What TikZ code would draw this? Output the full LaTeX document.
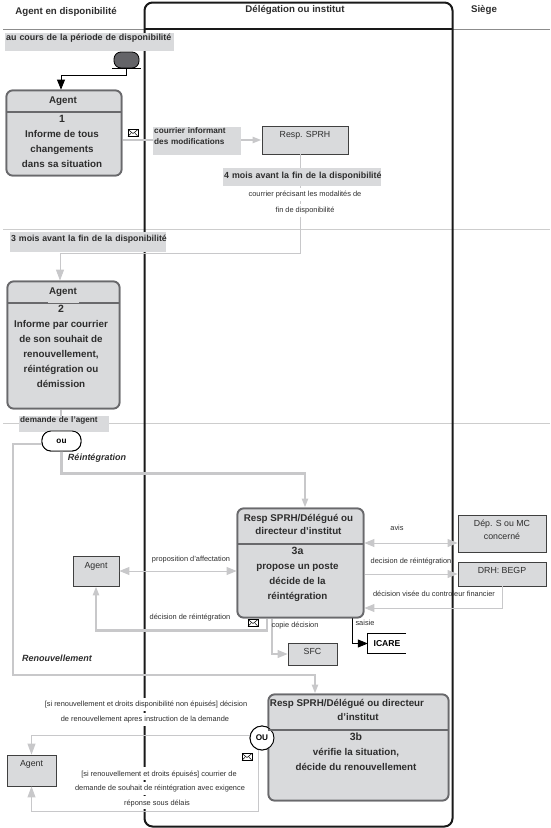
\documentclass[tikz,border=0pt]{standalone}
\usepackage{fontspec}
\setmainfont{Liberation Sans}
\usetikzlibrary{arrows.meta,calc,positioning}
\definecolor{boxgrey}{RGB}{217,218,220}
\definecolor{boxedge}{RGB}{105,105,108}
\definecolor{flowgrey}{RGB}{200,200,202}
\definecolor{rulegrey}{RGB}{205,205,205}
\definecolor{startgrey}{RGB}{100,100,104}
\definecolor{inkgrey}{RGB}{45,45,45}
\tikzset{
  swimrule/.style={rulegrey,line width=0.9pt},
  heavy/.style={black!90,line width=2pt},
  thinflow/.style={flowgrey,line width=0.9pt},
  midflow/.style={flowgrey,line width=1.1pt,-{Triangle[length=10pt,width=8pt]}},
  bothflow/.style={flowgrey,line width=0.9pt,{Triangle[length=10pt,width=8pt]}-{Triangle[length=10pt,width=8pt]}},
  thickflow/.style={flowgrey,line width=2.2pt,-{Triangle[length=9pt,width=6pt]}},
  blackflow/.style={black,line width=0.8pt,-{Triangle[length=10pt,width=8pt]}},
  maintitle/.style={font=\fontsize{9.7}{11}\selectfont\bfseries,text=inkgrey},
  activity/.style={draw=boxedge,fill=boxgrey,line width=1.8pt,rounded corners=6pt,inner sep=0pt},
  headrule/.style={boxedge,line width=1.6pt},
  headtext/.style={font=\fontsize{9.8}{13.5}\selectfont\bfseries,text=inkgrey,align=center,inner sep=0pt},
  bodytext/.style={font=\fontsize{9.8}{15}\selectfont\bfseries,text=inkgrey,align=center,inner sep=0pt},
  simplebox/.style={draw=black!75,fill=boxgrey,line width=0.8pt,inner xsep=0pt,inner ysep=0pt,align=center,
                    font=\fontsize{8.8}{13}\selectfont,text=inkgrey},
  greylab/.style={fill=boxgrey,anchor=north west,inner xsep=1pt,inner ysep=0pt,align=left,
                  font=\fontsize{8.2}{11.5}\selectfont\bfseries,text=inkgrey},
  thinlab/.style={font=\fontsize{7.4}{9}\selectfont,text=inkgrey,inner sep=0pt},
  maskedlab/.style={thinlab,fill=white,inner xsep=1pt,inner ysep=2pt,text height=7pt,text depth=2pt},
  pathlab/.style={font=\fontsize{9}{10}\selectfont\bfseries\itshape,text=inkgrey,inner sep=0pt},
  choice/.style={draw=black,fill=white,line width=0.9pt,inner sep=0pt,font=\fontsize{8.2}{9}\selectfont\bfseries},
  mailicon/.pic={
    \draw[black,line width=0.6pt,fill=white] (-5,-3.5) rectangle (5,3.5);
    \draw[black,line width=0.5pt] (-5,-3.5) -- (0,0.5) -- (5,-3.5);
    \draw[black,line width=0.5pt] (-5,3.5) -- (-1.5,-0.5) (5,3.5) -- (1.5,-0.5);
  },
}
\begin{document}
\begin{tikzpicture}[x=1pt,y=-1pt]
  \path[use as bounding box] (0,0) rectangle (550,828);

  % lanes
  \draw[black!45,line width=0.9pt] (3,29) -- (550,29);
  \draw[swimrule] (3,229) -- (550,229);
  \draw[swimrule] (3,423) -- (550,423);
  \node[draw=black!90,line width=2pt,rounded corners=8pt,minimum width=308pt,minimum height=824pt,inner sep=0pt]
    (FRAME) at (298.5,414.5) {};
  \draw[heavy] (144.5,29) -- (452.5,29);
  \node[maintitle] (LANEA) at (66,12) {Agent en disponibilité};
  \node[maintitle] (LANEB) at (295,9.5) {Délégation ou institut};
  \node[maintitle] (LANEC) at (484,10) {Siège};

  % activity boxes and plain boxes
  \node[activity,minimum width=115pt,minimum height=85pt] (AGENTA) at (64,133) {};
  \node[activity,minimum width=112pt,minimum height=127pt] (AGENTB) at (63.5,345) {};
  \node[activity,minimum width=126pt,minimum height=109pt] (RESPA) at (300.5,563) {};
  \node[activity,minimum width=180pt,minimum height=106pt] (RESPB) at (358.5,747.5) {};
  \node[simplebox,minimum width=86pt,text height=11pt,text depth=17pt] (SPRH) at (305,140) {Resp. SPRH};
  \node[simplebox,minimum width=46pt,text height=12pt,text depth=18pt] (AGENTC) at (96,571) {Agent};
  \node[simplebox,minimum width=49pt,text height=11pt,text depth=11pt] (SFC) at (312.5,654) {SFC};
  \node[simplebox,minimum width=88pt,text height=24pt,text depth=13pt] (DEP) at (502,533.5) {Dép. S ou MC\\concerné};
  \node[simplebox,minimum width=88pt,text height=11pt,text depth=13pt] (DRH) at (502,574) {DRH: BEGP};
  \node[simplebox,minimum width=49pt,text height=11pt,text depth=20pt] (AGENTD) at (31.5,770.5) {Agent};
  \node[inner sep=0pt,minimum width=38pt,minimum height=19pt,font=\fontsize{8.6}{10}\selectfont\bfseries] (ICARE) at (387,643.5) {ICARE};
  \draw[black,line width=0.8pt] (ICARE.north east) -- (ICARE.north west) -- (ICARE.south west) -- (ICARE.south east);

  % connectors
  \node[draw=black,fill=startgrey,line width=0.8pt,rounded corners=7pt,minimum width=25pt,minimum height=16pt,inner sep=0pt]
    (START) at (126.5,60) {};
  \draw[black,line width=0.8pt] (112,68) -- (141,68);
  \draw[blackflow] (START.south) -- ++(0,7) -| ($(AGENTA.north)+(-3,0)$);
  \draw[thickflow] (AGENTA.east |- SPRH.west) -- (SPRH.west);
  \draw[thinflow,-{Triangle[length=11pt,width=8pt]}] ($(SPRH.south)+(-5,0)$) -- ++(0,99) -| ($(AGENTB.north)+(-3.5,0)$);
  \draw[flowgrey,line width=1.6pt] ($(AGENTB.south)+(-2.5,0)$) -- ++(0,24);
  \coordinate (RENEWCORNER) at (13,675);
  \node[choice,rounded corners=9pt,minimum width=39pt,minimum height=20pt] (OUA) at (61.5,441) {};
  \draw[thickflow] ($(OUA.west)+(0,3)$) -| (RENEWCORNER) -| ($(RESPB.north)+(-43.5,0)$);
  \draw[thickflow] (OUA.south) -- ++(0,22) -| ($(RESPA.north)+(4.5,0)$);
  \draw[bothflow] (AGENTC.east) -- (RESPA.west |- AGENTC.east);
  \draw[thickflow] ($(RESPA.south)+(-33.5,0)$) -- ++(0,12) -| (AGENTC.south);
  \draw[midflow] ($(RESPA.south)+(-28.5,0)$) |- (SFC.west);
  \draw[blackflow] ($(RESPA.south)+(52,0)$) |- (ICARE.west);
  \draw[bothflow] (RESPA.east |- 0,543) -- (DEP.west |- 0,543);
  \draw[midflow,line width=0.9pt] (RESPA.east |- DRH.west) -- (DRH.west);
  \draw[thinflow,-{Triangle[length=10pt,width=8pt]}] (DRH.south) |- (RESPA.east |- 0,608);
  \node[circle,choice,minimum size=24pt] (OUB) at (262,738) {OU};
  \draw[thinflow,-{Triangle[length=11pt,width=8pt]}] ($(OUB.west)+(0,-3)$) -| (AGENTD.north);
  \draw[thinflow,-{Triangle[length=11pt,width=8pt]}] ($(OUB.south)+(-4,0)$) -- ++(0,61) -| (AGENTD.south);

  % redraw boxes over the line ends
  \node[activity,minimum width=115pt,minimum height=85pt] at (AGENTA) {};
  \node[activity,minimum width=112pt,minimum height=127pt] at (AGENTB) {};
  \node[activity,minimum width=126pt,minimum height=109pt] at (RESPA) {};
  \node[activity,minimum width=180pt,minimum height=106pt] at (RESPB) {};
  \node[circle,choice,minimum size=24pt] at (OUB) {OU};

  % box contents
  \draw[headrule] (AGENTA.west |- 0,112) -- (AGENTA.east |- 0,112);
  \draw[headrule] (AGENTB.west |- 0,303) -- (AGENTB.east |- 0,303);
  \fill[boxgrey] (48,301.8) rectangle (79,303.2);
  \draw[headrule] (RESPA.west |- 0,544) -- (RESPA.east |- 0,544);
  \draw[headrule] (RESPB.west |- 0,730) -- (RESPB.east |- 0,730);
  \node[headtext] (AGENTAHEAD) at (63,101) {Agent};
  \node[bodytext,anchor=north] (AGENTABODY) at (62,115)
    {\fontsize{10.5}{15}\selectfont 1\\Informe de tous\\changements\\dans sa situation};
  \node[headtext] (AGENTBHEAD) at (63,292) {Agent};
  \node[bodytext,anchor=north] (AGENTBBODY) at (61,304.5)
    {\fontsize{10.5}{15}\selectfont 2\\Informe par courrier\\de son souhait de\\renouvellement,\\réintégration ou\\démission};
  \node[headtext,anchor=north] (RESPAHEAD) at (298.5,514) {Resp SPRH/Délégué ou\\directeur d'institut};
  \node[bodytext,anchor=north] (RESPABODY) at (297.5,546.5)
    {\fontsize{10.5}{15}\selectfont 3a\\propose un poste\\décide de la\\réintégration};
  \node[headtext,anchor=north,font=\fontsize{9.8}{14}\selectfont\bfseries] (RESPBHEAD) at (347,699) {Resp SPRH/Délégué ou directeur\\\hspace*{22pt}d'institut};
  \node[bodytext,anchor=north] (RESPBBODY) at (356,732.5)
    {\fontsize{10.5}{15}\selectfont 3b\\vérifie la situation,\\décide du renouvellement};

  % grey labels
  \node[greylab,text width=167pt,text height=7pt,text depth=11pt,font=\fontsize{8.9}{11}\selectfont\bfseries] (LBLDURING) at (5,33) {\mbox{au cours de la période de disponibilité}};
  \node[greylab,text width=86pt,text height=6pt,text depth=22pt] (LBLCHANGE) at (153,127) {courrier informant\\des modifications};
  \node[greylab,text width=156pt,text height=10pt,text depth=8pt,font=\fontsize{8.85}{11}\selectfont\bfseries] (LBLFOUR) at (223,168) {\mbox{4 mois avant la fin de la disponibilité}};
  \node[greylab,text width=154pt,text height=9pt,text depth=11pt,font=\fontsize{8.75}{11}\selectfont\bfseries] (LBLTHREE) at (10,232) {\mbox{3 mois avant la fin de la disponibilité}};
  \node[greylab,text width=88pt,text height=6pt,text depth=10pt] (LBLASK) at (19,416) {demande de l'agent};
  \node[choice,rounded corners=9pt,minimum width=39pt,minimum height=20pt] at (OUA) {ou};

  % plain labels
  \node[maskedlab] (LBLMODA) at (305,194) {courrier précisant les modalités de};
  \node[maskedlab] (LBLMODB) at (305,210) {fin de disponibilité};
  \node[pathlab] (LBLBACK) at (97,458) {Réintégration};
  \node[pathlab] (LBLRENEW) at (57,658) {Renouvellement};
  \node[thinlab] (LBLOFFER) at (191,560) {proposition d'affectation};
  \node[thinlab] (LBLDECISION) at (190,618) {décision de réintégration};
  \node[thinlab] (LBLCOPY) at (295,626) {copie décision};
  \node[thinlab] (LBLENTRY) at (365,623) {saisie};
  \node[thinlab] (LBLOPINION) at (397,528) {avis};
  \node[thinlab] (LBLREINT) at (411,562) {decision de réintégration};
  \node[thinlab] (LBLCHECKED) at (434,594) {décision visée du controleur financier};
  \node[maskedlab] (LBLNOTA) at (146,704) {[si renouvellement et droits disponibilité non épuisés] décision};
  \node[maskedlab] (LBLNOTB) at (145,719) {de renouvellement apres instruction de la demande};
  \node[maskedlab] (LBLDONEA) at (159,773.5) {[si renouvellement et droits épuisés] courrier de};
  \node[maskedlab] (LBLDONEB) at (160,788) {demande de souhait de réintégration avec exigence};
  \node[maskedlab] (LBLDONEC) at (157,802.5) {réponse sous délais};

  % envelopes
  \pic at (133,133) {mailicon};
  \pic at (253,623) {mailicon};
  \pic at (247,757) {mailicon};
\end{tikzpicture}
\end{document}
